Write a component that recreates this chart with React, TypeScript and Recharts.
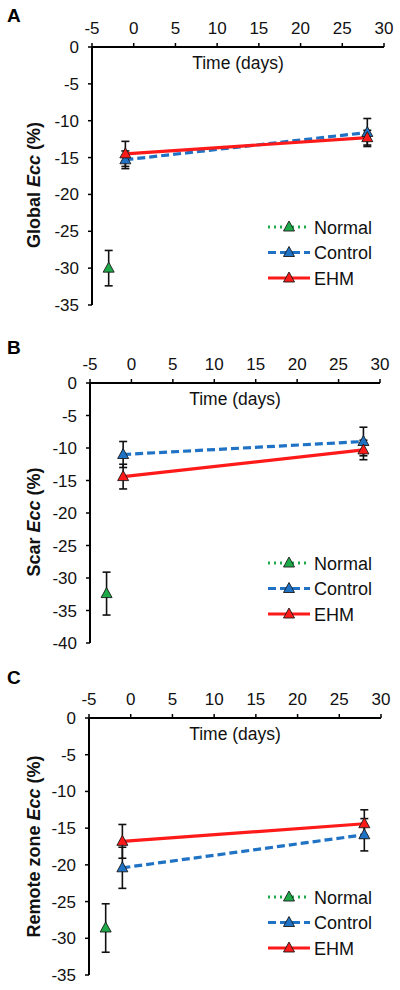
import React from 'react';
import { LineChart, Line, XAxis, YAxis, ErrorBar, Label } from 'recharts';

// time points (days)
const baselineDay = -3;
const preDay = -1;
const postDay = 28;

const xTicks = [-5, 0, 5, 10, 15, 20, 25, 30];

// Panel A: Global Ecc
const globalNormal = [{ x: baselineDay, y: -30, err: 2.4 }];
const globalControl = [
  { x: preDay, y: -15.3, err: 1.2 },
  { x: postDay, y: -11.6, err: 1.9 },
];
const globalEhm = [
  { x: preDay, y: -14.5, err: 1.7 },
  { x: postDay, y: -12.3, err: 1.0 },
];

// Panel B: Scar Ecc
const scarNormal = [{ x: baselineDay, y: -32.4, err: 3.3 }];
const scarControl = [
  { x: preDay, y: -11.0, err: 2.0 },
  { x: postDay, y: -9.0, err: 2.2 },
];
const scarEhm = [
  { x: preDay, y: -14.4, err: 1.9 },
  { x: postDay, y: -10.3, err: 1.5 },
];

// Panel C: Remote zone Ecc
const remoteNormal = [{ x: baselineDay, y: -28.6, err: 3.3 }];
const remoteControl = [
  { x: preDay, y: -20.4, err: 2.8 },
  { x: postDay, y: -15.9, err: 2.2 },
];
const remoteEhm = [
  { x: preDay, y: -16.8, err: 2.3 },
  { x: postDay, y: -14.4, err: 1.9 },
];

const GREEN = '#1faa4a';
const BLUE = '#1f72c4';
const RED = '#ff1a1a';
const FONT = '"Liberation Sans", Arial, sans-serif';

const Triangle = ({ cx, cy, fill }: { cx: number; cy: number; fill: string }) => (
  <polygon
    points={`${cx},${cy - 6} ${cx - 5.5},${cy + 4} ${cx + 5.5},${cy + 4}`}
    fill={fill}
    stroke="#1a1a1a"
    strokeWidth={0.9}
  />
);

const triDot = (fill: string) => (props: any) => {
  const { cx, cy, index } = props;
  if (cx == null || cy == null) return <g key={index} />;
  return <Triangle key={index} cx={cx} cy={cy} fill={fill} />;
};

const legendItems = [
  { name: 'Normal', color: GREEN, dash: '2 4' },
  { name: 'Control', color: BLUE, dash: '8 4' },
  { name: 'EHM', color: RED, dash: undefined },
];

const LegendBox = ({ x, y }: { x: number; y: number }) => (
  <g>
    {legendItems.map((it, i) => {
      const yy = y + i * 25.5;
      return (
        <g key={it.name}>
          <line x1={x} x2={x + 42} y1={yy} y2={yy} stroke={it.color} strokeWidth={3} strokeDasharray={it.dash} />
          <Triangle cx={x + 21} cy={yy} fill={it.color} />
          <text x={x + 46} y={yy + 6.5} fontSize={18} fontFamily={FONT} fill="#111">
            {it.name}
          </text>
        </g>
      );
    })}
  </g>
);

interface PanelProps {
  letter: string;
  yLabel: string;
  yMin: number;
  normal: any[];
  control: any[];
  ehm: any[];
  top: number;
  left: number;
  width: number;
  plotTop: number;
  plotBottom: number;
  legendY: number;
  labelShift: number;
}

const Panel = ({ letter, yLabel, yMin, normal, control, ehm, top, left, width, plotTop, plotBottom, legendY, labelShift }: PanelProps) => {
  const yTicks: number[] = [];
  for (let v = 0; v >= yMin; v -= 5) yTicks.push(v);
  const h = 330;
  const xAxisH = 36;
  const yAxisW = 60;
  return (
    <div style={{ position: 'absolute', top, left: 0, width: 400, height: h }}>
      <div style={{ position: 'absolute', left: 7, top: top === 0 ? 5 : 7, fontFamily: FONT, fontWeight: 'bold', fontSize: 19 }}>{letter}</div>
      <LineChart
        width={400}
        height={h}
        margin={{ top: plotTop - xAxisH, left: left - yAxisW, right: 400 - left - width, bottom: h - plotBottom }}
      >
        <XAxis
          type="number"
          dataKey="x"
          orientation="top"
          domain={[-5, 30]}
          ticks={xTicks}
          height={xAxisH}
          allowDataOverflow
          axisLine={{ stroke: '#000', strokeWidth: 2 }}
          tickLine={{ stroke: '#000', strokeWidth: 1.5 }}
          tickSize={4}
          tickMargin={9}
          tick={{ fill: '#111', fontSize: 17, fontFamily: FONT }}
        >
          <Label value="Time (days)" position="bottom" offset={10} style={{ fill: '#111', fontSize: 17.5, fontFamily: FONT }} />
        </XAxis>
        <YAxis
          type="number"
          dataKey="y"
          domain={[yMin, 0]}
          ticks={yTicks}
          width={yAxisW}
          allowDataOverflow
          axisLine={{ stroke: '#000', strokeWidth: 2 }}
          tickLine={{ stroke: '#000', strokeWidth: 1.5 }}
          tickSize={4}
          tickMargin={9}
          tick={{ fill: '#111', fontSize: 17, fontFamily: FONT }}
        >
          <Label
            position="insideLeft"
            content={(p: any) => {
              const vb = p.viewBox || {};
              const cx = 34;
              const cy = vb.y + vb.height / 2 + labelShift;
              return (
                <text
                  x={cx}
                  y={cy}
                  transform={`rotate(-90, ${cx}, ${cy})`}
                  textAnchor="middle"
                  dominantBaseline="central"
                  fontSize={18}
                  fontWeight="bold"
                  fontFamily={FONT}
                  fill="#111"
                >
                  {yLabel} <tspan fontStyle="italic">Ecc</tspan> (%)
                </text>
              );
            }}
          />
        </YAxis>
        <Line data={normal} dataKey="y" stroke={GREEN} strokeWidth={3} strokeDasharray="2 4" dot={triDot(GREEN)} activeDot={false} isAnimationActive={false}>
          <ErrorBar dataKey="err" direction="y" width={4} stroke="#111" strokeWidth={1.6} />
        </Line>
        <Line data={control} dataKey="y" stroke={BLUE} strokeWidth={3.2} strokeDasharray="8 4" dot={triDot(BLUE)} activeDot={false} isAnimationActive={false}>
          <ErrorBar dataKey="err" direction="y" width={4} stroke="#111" strokeWidth={1.6} />
        </Line>
        <Line data={ehm} dataKey="y" stroke={RED} strokeWidth={3.2} dot={triDot(RED)} activeDot={false} isAnimationActive={false}>
          <ErrorBar dataKey="err" direction="y" width={4} stroke="#111" strokeWidth={1.6} />
        </Line>
        <LegendBox x={268} y={legendY} />
      </LineChart>
    </div>
  );
}

export default function App() {
  return (
    <div style={{ position: 'absolute', left: 0, top: 0, width: 400, height: 990, background: '#fff' }}>
      <Panel letter="A" yLabel="Global" yMin={-35} normal={globalNormal} control={globalControl} ehm={globalEhm}
        top={0} left={92} width={292} plotTop={47} plotBottom={305} legendY={227} labelShift={9} />
      <Panel letter="B" yLabel="Scar" yMin={-40} normal={scarNormal} control={scarControl} ehm={scarEhm}
        top={330} left={90} width={290} plotTop={53} plotBottom={313} legendY={233} labelShift={9} />
      <Panel letter="C" yLabel="Remote zone" yMin={-35} normal={remoteNormal} control={remoteControl} ehm={remoteEhm}
        top={660} left={89} width={292} plotTop={58} plotBottom={315} legendY={237} labelShift={0} />
    </div>
  );
}
